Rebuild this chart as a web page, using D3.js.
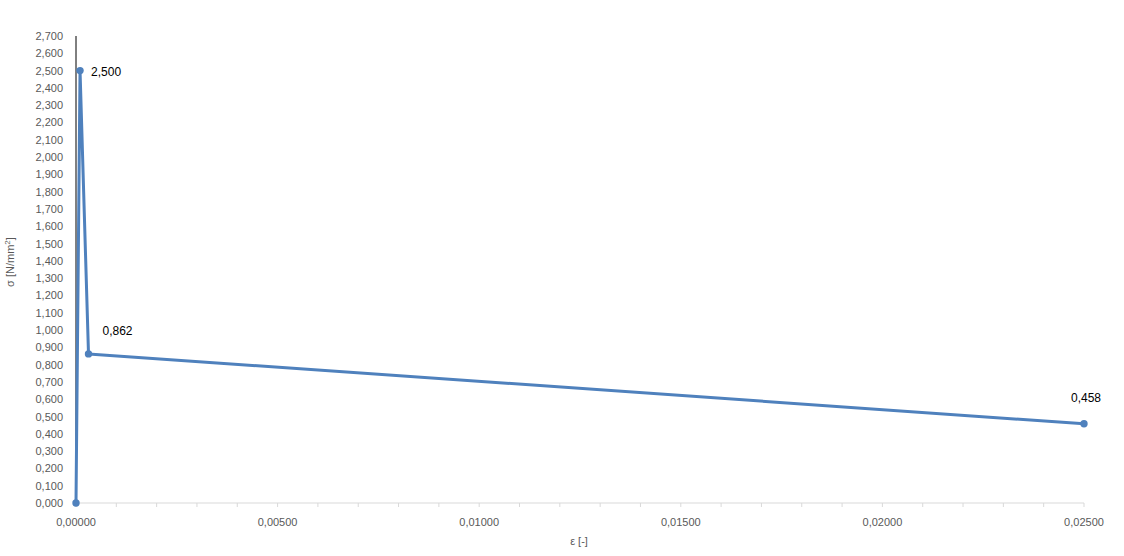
<!DOCTYPE html>
<html>
<head>
<meta charset="utf-8">
<script src="https://cdn.jsdelivr.net/npm/d3@7"></script>
<style>
  body { margin:0; background:#fff; }
  #plot { width:1124px; height:556px; }
  text { font-family: "Liberation Sans", "DejaVu Sans", sans-serif; }
</style>
</head>
<body>
<div id="plot"></div>
<script>
// strain / stress points
var strain = [0, 0.0001, 0.00031, 0.025];
var stress = [0, 2.5, 0.862, 0.458];
var labelled = [false, true, true, true];

var yTicks = d3.range(0, 2.7001, 0.1);
var xTicks = [0, 0.005, 0.01, 0.015, 0.02, 0.025];
var xMinor = d3.range(0, 0.02501, 0.001);

var loc = d3.formatLocale({decimal:",", thousands:".", grouping:[3], currency:["",""]});
var fy = loc.format(".3f"), fx = loc.format(".5f");

var margin = {t:36,r:40,b:53,l:76};
var W = 1124, H = 556;
var width = W - margin.l - margin.r,
    height = H - margin.t - margin.b;

var svg = d3.select('#plot').append('svg')
    .attr('width',W).attr('height',H);
var plot = svg.append('g')
    .attr('transform','translate('+margin.l+','+margin.t+')');

var x = d3.scaleLinear().domain([0,0.025]).range([0,width]);
var y = d3.scaleLinear().domain([0,2.7]).range([height,0]);

//x axis line + minor ticks
plot.append('line')
    .attr('x1',0).attr('x2',width)
    .attr('y1',height).attr('y2',height)
    .style('stroke','#d9d9d9').style('stroke-width',1);
plot.selectAll('.minor').data(xMinor).enter().append('line')
    .attr('x1',d=>x(d)).attr('x2',d=>x(d))
    .attr('y1',height).attr('y2',height+4)
    .style('stroke','#d9d9d9');
plot.selectAll('.xl').data(xTicks).enter().append('text')
    .attr('x',d=>x(d)).attr('y',height+23)
    .attr('text-anchor','middle')
    .style('font-size','11px').style('fill','#595959')
    .text(fx);

//y axis
plot.append('line')
    .attr('x1',0).attr('x2',0)
    .attr('y1',0).attr('y2',height)
    .style('stroke','#000').style('stroke-width',1);
plot.selectAll('.yl').data(yTicks).enter().append('text')
    .attr('x',-13).attr('y',d=>y(d)+4)
    .attr('text-anchor','end')
    .style('font-size','11px').style('fill','#595959')
    .text(fy);

//titles
svg.append('text')
    .attr('x',579).attr('y',545)
    .attr('text-anchor','middle')
    .style('font-size','11px').style('fill','#595959')
    .text('ε [-]');
svg.append('text')
    .attr('transform','translate(14,262) rotate(-90)')
    .attr('text-anchor','middle')
    .style('font-size','11px').style('fill','#595959')
    .html('σ [N/mm<tspan dy="-4" font-size="8px">2</tspan><tspan dy="4">]</tspan>');

//series
var pts = strain.map((s,i)=>({x:s, y:stress[i], lab:labelled[i]}));
var line = d3.line().x(d=>x(d.x)).y(d=>y(d.y));
plot.append('path').datum(pts)
    .attr('d',line)
    .style('fill','none').style('stroke','#4f81bd')
    .style('stroke-width',3).style('stroke-linejoin','round');
plot.selectAll('.pt').data(pts).enter().append('circle')
    .attr('cx',d=>x(d.x)).attr('cy',d=>y(d.y)).attr('r',3.7)
    .style('fill','#4f81bd');

//data labels
var off = [null, [11,5], [14,-19], [-13,-22]];
plot.selectAll('.dl').data(pts.filter(d=>d.lab)).enter().append('text')
    .attr('x',d=>x(d.x)+off[strain.indexOf(d.x)][0])
    .attr('y',d=>y(d.y)+off[strain.indexOf(d.x)][1])
    .style('font-size','12px').style('fill','#000')
    .text(d=>fy(d.y));
</script>
</body>
</html>
